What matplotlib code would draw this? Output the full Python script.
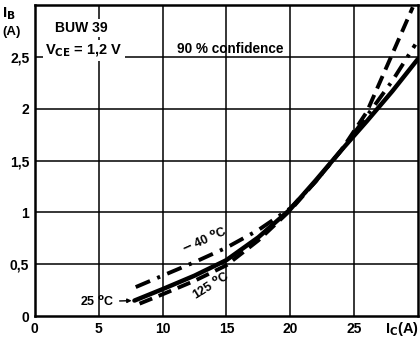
### BUW 39  I_B - I_C 特性
import matplotlib.pyplot as plt
import numpy as np

plt.rcParams['font.family'] = ['Liberation Sans', 'DejaVu Sans']
plt.rcParams['font.weight'] = 'bold'
plt.rcParams['mathtext.default'] = 'bf'

# 25 °C (実線)
ic_25 = [7.8, 10, 12.5, 15, 17.5, 20, 22, 24, 26, 28, 30]
ib_25 = [0.15, 0.26, 0.39, 0.54, 0.76, 1.03, 1.31, 1.6, 1.88, 2.17, 2.48]
# -40 °C (一点鎖線)
ic_m40 = [7.9, 10, 12.5, 15, 17.5, 20, 22, 24, 26, 28, 29.8]
ib_m40 = [0.28, 0.39, 0.52, 0.66, 0.83, 1.04, 1.3, 1.6, 1.93, 2.27, 2.62]
# 125 °C (破線)
ic_125 = [8.2, 10, 12.5, 15, 17.5, 20, 22, 24, 26, 28, 29.6]
ib_125 = [0.12, 0.21, 0.34, 0.49, 0.73, 1.02, 1.3, 1.6, 1.97, 2.53, 2.98]

xticks = [0, 5, 10, 15, 20, 25]
xlabels = ["0", "5", "10", "15", "20", "25"]
yticks = [0, 0.5, 1, 1.5, 2, 2.5]
ylabels = ["0", "0,5", "1", "1,5", "2", "2,5"]

fig = plt.figure(figsize=(4.2, 3.41), dpi=100)
ax = fig.add_axes([0.083, 0.073, 0.912, 0.912])
ax.set_xlim(0, 30)
ax.set_ylim(0, 3)

# グリッド
for xv in xticks[1:]:
    ax.axvline(xv, color='black', lw=1.1, zorder=1)
for yv in yticks[1:]:
    ax.axhline(yv, color='black', lw=1.1, zorder=1)

for s in ax.spines.values():
    s.set_linewidth(1.8)

ax.plot(ic_25, ib_25, color='black', lw=3.2, solid_capstyle='round', zorder=3)
ax.plot(ic_m40, ib_m40, color='black', lw=2.8, dashes=(4, 2, 0.8, 2), zorder=3)
ax.plot(ic_125, ib_125, color='black', lw=2.8, dashes=(3.5, 1.8), zorder=3)

ax.set_xticks(xticks)
ax.set_xticklabels(xlabels, fontsize=10, fontweight='bold')
ax.set_yticks(yticks)
ax.set_yticklabels(ylabels, fontsize=10, fontweight='bold')
ax.tick_params(length=0, pad=4)

# テキスト
bb = dict(facecolor='white', edgecolor='none', pad=1.5)
ax.text(1.6, 2.78, "BUW 39", fontsize=10, fontweight='bold', va='center', bbox=bb, zorder=4)
ax.text(0.8, 2.56, r"V$_{CE}$ = 1,2 V", fontsize=10.5, fontweight='bold', va='center', bbox=bb, zorder=4)
ax.text(11.1, 2.51, "90 % confidence", fontsize=9.8, fontweight='bold', va='bottom', zorder=4)

ax.text(13.3, 0.73, r"$-$ 40 $^{o}$C", fontsize=9, fontweight='bold', rotation=24,
        ha='center', va='center', zorder=4)
ax.text(13.8, 0.29, r"125 $^{o}$C", fontsize=9, fontweight='bold', rotation=32,
        ha='center', va='center', zorder=4)
ax.annotate(r"25 $^{o}$C", xy=(7.8, 0.15), xytext=(3.5, 0.14), fontsize=9, fontweight='bold',
            va='center', arrowprops=dict(arrowstyle='-|>', color='black', lw=1, mutation_scale=6))

fig.text(0.005, 0.96, r"I$_{B}$", fontsize=11, fontweight='bold', va='center')
fig.text(0.005, 0.905, "(A)", fontsize=9.5, fontweight='bold', va='center')
fig.text(0.997, 0.035, r"I$_{C}$(A)", fontsize=10.5, fontweight='bold', ha='right', va='center')

fig.savefig("out.png", dpi=100)
